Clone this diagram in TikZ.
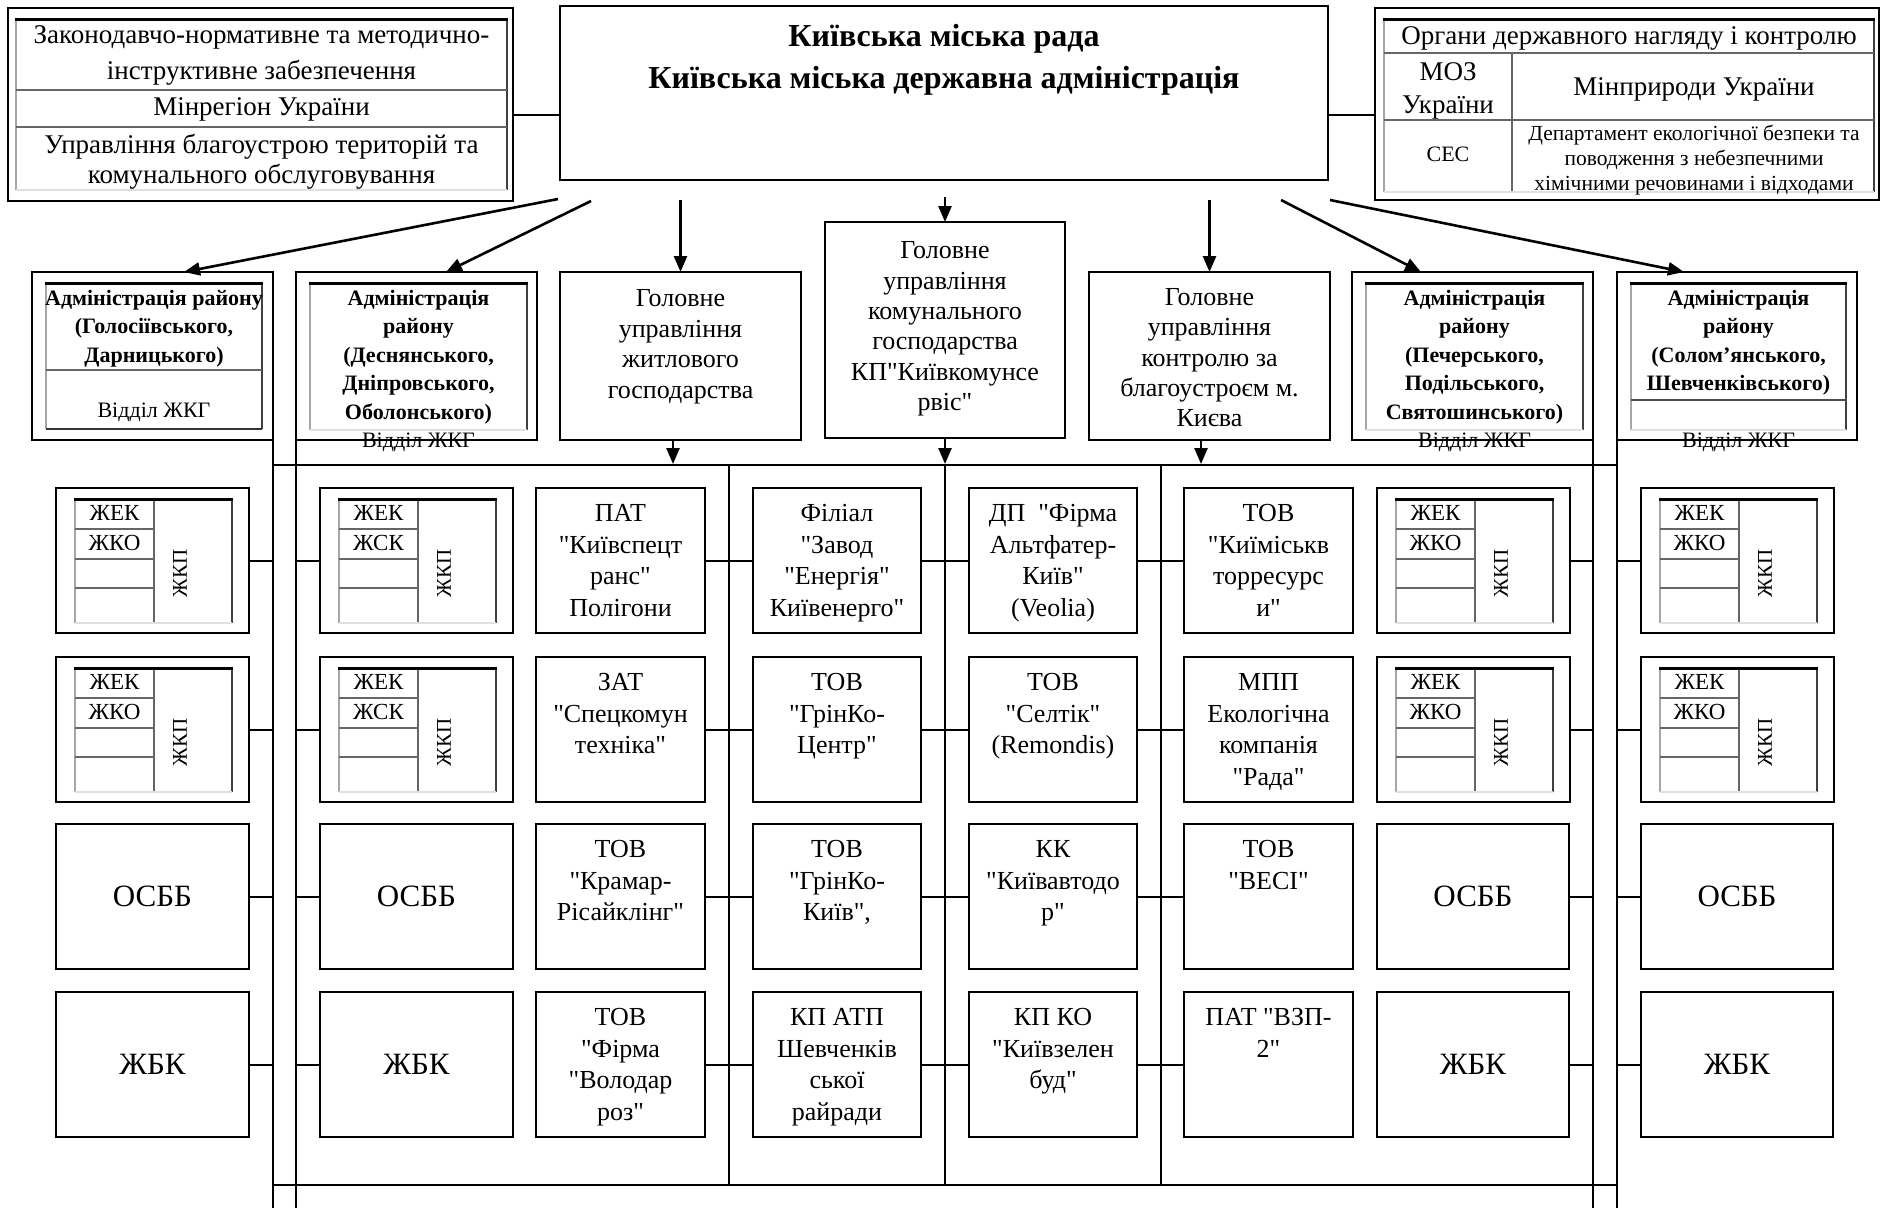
\documentclass[tikz,border=0pt]{standalone}
\usepackage{fontspec}
\setmainfont{Liberation Serif}[Ligatures=TeXOff]
\usetikzlibrary{arrows.meta,calc}
\lineskiplimit=-100pt
\newcommand{\tp}{\rule{0pt}{0.85em}}
\newcommand{\fsz}[2]{\fontsize{#1}{#2}\selectfont}
\tikzset{
  box/.style={draw=black,line width=2pt,fill=white,inner sep=0pt,outer sep=0pt,anchor=north west},
  ln/.style={draw=black,line width=2pt},
  arr/.style={draw=black,line width=2.6pt,-{Triangle[length=16pt,width=13pt]}},
  tx/.style={inner sep=0pt,outer sep=0pt,anchor=north,align=center},
  mtx/.style={tx,font=\fsz{26}{31.5}},
  adm/.style={tx,font=\bfseries\fsz{22}{28.5}},
  otd/.style={tx,font=\fsz{22}{26}},
  zk/.style={inner sep=0pt,outer sep=0pt,font=\fsz{23}{26}},
  zkr/.style={inner sep=0pt,outer sep=0pt,font=\fsz{21}{24}},
  big/.style={box,font=\fsz{31}{36}},
  tblL/.style={draw=black!35,line width=1.8pt},
  tblR/.style={draw=black!75,line width=2.2pt},
  tblM/.style={draw=black!60,line width=1.8pt},
  tblT/.style={draw=black,line width=3pt},
  tblB/.style={draw=black!12,line width=1.2pt},
}
% box with ZhEK/ZhKP table: name, L, T, text1, text2
\newcommand{\zkpbox}[5]{%
  \node[box,minimum width=193pt,minimum height=145pt] (#1) at (#2,#3) {};
  \begin{scope}[shift={(#2,#3)}]
    \draw[tblL] (19,11) -- (19,135);
    \draw[tblM] (98,11) -- (98,135);
    \draw[tblR] (176,11) -- (176,135);
    \draw[tblM] (19,41) -- (98,41) (19,71) -- (98,71) (19,100) -- (98,100);
    \draw[tblB] (19,135) -- (176,135);
    \draw[tblT] (18,11) -- (177,11);
    \node[zk] (#1a) at (58.5,25) {#4};
    \node[zk] (#1b) at (58.5,55) {#5};
    \node[zkr,rotate=90] (#1c) at (124,85) {ЖКП};
  \end{scope}}
% organisation box: name, L, T, W, text
\newcommand{\orgbox}[5]{%
  \node[box,minimum width=#4pt,minimum height=145pt] (#1) at (#2,#3) {};
  \node[mtx] (#1t) at ([yshift=-11.5pt]#1.north) {\tp #5};}

\begin{document}
\begin{tikzpicture}[x=1pt,y=-1pt]
\useasboundingbox (0,0) rectangle (1889,1208);
\fill[white] (0,0) rectangle (1889,1208);

% ---------- grid coordinates ----------
\coordinate (v1) at (273,465);
\coordinate (v2) at (296,465);
\coordinate (v3) at (729,465);
\coordinate (v4) at (945,465);
\coordinate (v5) at (1161,465);
\coordinate (v6) at (1593,465);
\coordinate (v7) at (1617,465);
\coordinate (hb) at (273,1185);
\coordinate (hb7) at (1617,1185);
\coordinate (lnk) at (0,115);

% ---------- top row ----------
\node[box,minimum width=505pt,minimum height=193pt] (tl) at (8,8) {};
\draw[tblL] (16,19) -- (16,190);
\draw[tblR] (507,19) -- (507,190);
\draw[tblM] (16,90) -- (507,90) (16,127) -- (507,127);
\draw[tblB] (16,190) -- (507,190);
\draw[tblT] (15,19) -- (508,19);
\node[tx,font=\fsz{27}{36}] (tl1) at (261.5,21) {\tp Законодавчо-нормативне та методично-\\інструктивне забезпечення};
\node[tx,font=\fsz{27}{30}] (tl2) at (261.5,93) {\tp Мінрегіон України};
\node[tx,font=\fsz{27}{30}] (tl3) at (261.5,131) {\tp Управління благоустрою територій та\\комунального обслуговування};

\node[box,minimum width=768pt,minimum height=174pt] (top) at (560,6) {};
\node[tx,font=\bfseries\fsz{32}{42}] (title) at (944,19.4) {\tp Київська міська рада\\Київська міська державна адміністрація};

\node[box,minimum width=504pt,minimum height=192pt] (tr) at (1375,8) {};
\draw[tblL] (1384,19) -- (1384,192);
\draw[tblR] (1874,19) -- (1874,192);
\draw[tblM] (1384,53) -- (1874,53) (1384,120) -- (1874,120);
\draw[tblM] (1512,53) -- (1512,192);
\draw[tblB] (1384,192) -- (1874,192);
\draw[tblT] (1383,19) -- (1875,19);
\node[tx,font=\fsz{27}{30}] (tr1) at (1629,22) {\tp Органи державного нагляду і контролю};
\node[tx,font=\fsz{27}{33}] (tr2) at (1448,58) {\tp МОЗ\\України};
\node[tx,font=\fsz{27}{30}] (tr3) at (1694,73) {\tp Мінприроди України};
\node[tx,font=\fsz{22}{24}] (tr4) at (1448,142.6) {\tp СЕС};
\node[tx,font=\fsz{21.5}{25}] (tr5) at (1694,121.8) {\tp Департамент екологічної безпеки та\\поводження з небезпечними\\хімічними речовинами і відходами};

\draw[ln] (tl.east |- lnk) -- (top.west |- lnk);
\draw[ln] (top.east |- lnk) -- (tr.west |- lnk);

% ---------- second row ----------
\node[box,minimum width=241pt,minimum height=168pt] (a1) at (32,272) {};
\draw[tblL] (46,283) -- (46,429);
\draw[tblR] (262,283) -- (262,429);
\draw[tblM] (46,370) -- (262,370);
\draw[draw=black!80,line width=2.5pt] (46,429) -- (262,429);
\draw[tblT] (45,283) -- (263,283);
\node[adm] (a1t) at (154,286.6) {\tp Адміністрація району\\(Голосіївського,\\Дарницького)};
\node[otd] (a1v) at (154,398.6) {\tp Відділ ЖКГ};

\node[box,minimum width=241pt,minimum height=168pt] (a2) at (296,272) {};
\draw[tblL] (310,283) -- (310,430);
\draw[tblR] (527,283) -- (527,430);
\draw[tblB] (310,430) -- (527,430);
\draw[tblT] (309,283) -- (528,283);
\node[adm] (a2t) at (418.5,286.6) {\tp Адміністрація\\району\\(Деснянського,\\Дніпровського,\\Оболонського)};
\node[otd] (a2v) at (418.5,428.6) {\tp Відділ ЖКГ};

\node[box,minimum width=241pt,minimum height=168pt] (b1) at (560,272) {};
\node[tx,font=\fsz{26}{30.5}] (b1t) at (680.5,284.5) {\tp Головне\\управління\\житлового\\господарства};

\node[box,minimum width=240pt,minimum height=216pt] (b2) at (825,222) {};
\node[tx,font=\fsz{26}{30.4}] (b2t) at (945,236.5) {\tp Головне\\управління\\комунального\\господарства\\КП"Київкомунсе\\рвіс"};

\node[box,minimum width=241pt,minimum height=168pt] (b3) at (1089,272) {};
\node[tx,font=\fsz{26}{30.3}] (b3t) at (1209.5,283.5) {\tp Головне\\управління\\контролю за\\благоустроєм м.\\Києва};

\node[box,minimum width=241pt,minimum height=168pt] (a3) at (1352,272) {};
\draw[tblL] (1366,283) -- (1366,430);
\draw[tblR] (1583,283) -- (1583,430);
\draw[tblB] (1366,430) -- (1583,430);
\draw[tblT] (1365,283) -- (1584,283);
\node[adm] (a3t) at (1474.5,286.6) {\tp Адміністрація\\району\\(Печерського,\\Подільського,\\Святошинського)};
\node[otd] (a3v) at (1474.5,428.6) {\tp Відділ ЖКГ};

\node[box,minimum width=240pt,minimum height=168pt] (a4) at (1617,272) {};
\draw[tblL] (1631,283) -- (1631,430);
\draw[tblR] (1846,283) -- (1846,430);
\draw[draw=black!70,line width=2.5pt] (1631,400) -- (1846,400);
\draw[tblB] (1631,430) -- (1846,430);
\draw[tblT] (1630,283) -- (1847,283);
\node[adm] (a4t) at (1738.5,286.6) {\tp Адміністрація\\району\\(Солом’янського,\\Шевченківського)};
\node[otd] (a4v) at (1738.5,428.6) {\tp Відділ ЖКГ};

% ---------- arrows from the city administration ----------
\coordinate (s1) at (558,199);
\coordinate (s2) at (591,201);
\coordinate (s3) at (680.5,200);
\coordinate (s4) at (945,197);
\coordinate (s5) at (1209.5,200);
\coordinate (s6) at (1281,200);
\coordinate (s7) at (1330,200);
\draw[arr] (s1) -- ([xshift=152pt]a1.north west);
\draw[arr] (s2) -- ([xshift=150pt]a2.north west);
\draw[arr] (s3) -- (b1.north);
\draw[arr] (s4) -- (b2.north);
\draw[arr] (s5) -- (b3.north);
\draw[arr] (s6) -- ([xshift=69pt]a3.north west);
\draw[arr] (s7) -- ([xshift=67pt]a4.north west);

% ---------- bus lines ----------
\draw[ln] (v1) -- (v7);
\draw[ln] (hb) -- (hb7);
\draw[ln] (a1.south east) -- (a1.south east |- 0,1208);
\draw[ln] (a2.south west) -- (a2.south west |- 0,1208);
\draw[ln] (a3.south east) -- (a3.south east |- 0,1208);
\draw[ln] (a4.south west) -- (a4.south west |- 0,1208);
\draw[ln] (v3) -- (v3 |- hb);
\draw[ln] (v4) -- (v4 |- hb);
\draw[ln] (v5) -- (v5 |- hb);
\draw[arr] ([xshift=-7.5pt]b1.south) -- ([xshift=-7.5pt]b1.south |- 0,464);
\draw[arr] (b2.south) -- (b2.south |- 0,464);
\draw[arr] ([xshift=-8.5pt]b3.south) -- ([xshift=-8.5pt]b3.south |- 0,464);

% ---------- lower boxes ----------
\zkpbox{c1r1}{56}{488}{ЖЕК}{ЖКО}
\zkpbox{c1r2}{56}{657}{ЖЕК}{ЖКО}
\node[big,minimum width=193pt,minimum height=145pt] (c1r3) at (56,824) {ОСББ};
\node[big,minimum width=193pt,minimum height=145pt] (c1r4) at (56,992) {ЖБК};

\zkpbox{c2r1}{320}{488}{ЖЕК}{ЖСК}
\zkpbox{c2r2}{320}{657}{ЖЕК}{ЖСК}
\node[big,minimum width=193pt,minimum height=145pt] (c2r3) at (320,824) {ОСББ};
\node[big,minimum width=193pt,minimum height=145pt] (c2r4) at (320,992) {ЖБК};

\orgbox{c3r1}{536}{488}{169}{ПАТ\\"Київспецт\\ранс"\\Полігони}
\orgbox{c3r2}{536}{657}{169}{ЗАТ\\"Спецкомун\\техніка"}
\orgbox{c3r3}{536}{824}{169}{ТОВ\\"Крамар-\\Рісайклінг"}
\orgbox{c3r4}{536}{992}{169}{ТОВ\\"Фірма\\"Володар\\роз"}

\orgbox{c4r1}{753}{488}{168}{Філіал\\"Завод\\"Енергія"\\Київенерго"}
\orgbox{c4r2}{753}{657}{168}{ТОВ\\"ГрінКо-\\Центр"}
\orgbox{c4r3}{753}{824}{168}{ТОВ\\"ГрінКо-\\Київ",}
\orgbox{c4r4}{753}{992}{168}{КП АТП\\Шевченків\\ської\\райради}

\orgbox{c5r1}{969}{488}{168}{ДП\ \ "Фірма\\Альтфатер-\\Київ"\\(Veolia)}
\orgbox{c5r2}{969}{657}{168}{ТОВ\\"Селтік"\\(Remondis)}
\orgbox{c5r3}{969}{824}{168}{КК\\"Київавтодо\\р"}
\orgbox{c5r4}{969}{992}{168}{КП КО\\"Київзелен\\буд"}

\orgbox{c6r1}{1184}{488}{169}{ТОВ\\"Киїміськв\\торресурс\\и"}
\orgbox{c6r2}{1184}{657}{169}{МПП\\Екологічна\\компанія\\"Рада"}
\orgbox{c6r3}{1184}{824}{169}{ТОВ\\"ВЕСІ"}
\orgbox{c6r4}{1184}{992}{169}{ПАТ "ВЗП-\\2"}

\zkpbox{c7r1}{1377}{488}{ЖЕК}{ЖКО}
\zkpbox{c7r2}{1377}{657}{ЖЕК}{ЖКО}
\node[big,minimum width=192pt,minimum height=145pt] (c7r3) at (1377,824) {ОСББ};
\node[big,minimum width=192pt,minimum height=145pt] (c7r4) at (1377,992) {ЖБК};

\zkpbox{c8r1}{1641}{488}{ЖЕК}{ЖКО}
\zkpbox{c8r2}{1641}{657}{ЖЕК}{ЖКО}
\node[big,minimum width=192pt,minimum height=145pt] (c8r3) at (1641,824) {ОСББ};
\node[big,minimum width=192pt,minimum height=145pt] (c8r4) at (1641,992) {ЖБК};

% ---------- connectors of lower boxes ----------
\foreach \r in {1,...,4}{
  \draw[ln] (c1r\r.east) -- (c1r\r.east -| v1);
  \draw[ln] (v2 |- c2r\r.west) -- (c2r\r.west);
  \draw[ln] (c3r\r.east) -- (c4r\r.west);
  \draw[ln] (c4r\r.east) -- (c5r\r.west);
  \draw[ln] (c5r\r.east) -- (c6r\r.west);
  \draw[ln] (c7r\r.east) -- (c7r\r.east -| v6);
  \draw[ln] (v7 |- c8r\r.west) -- (c8r\r.west);
}
\end{tikzpicture}
\end{document}
